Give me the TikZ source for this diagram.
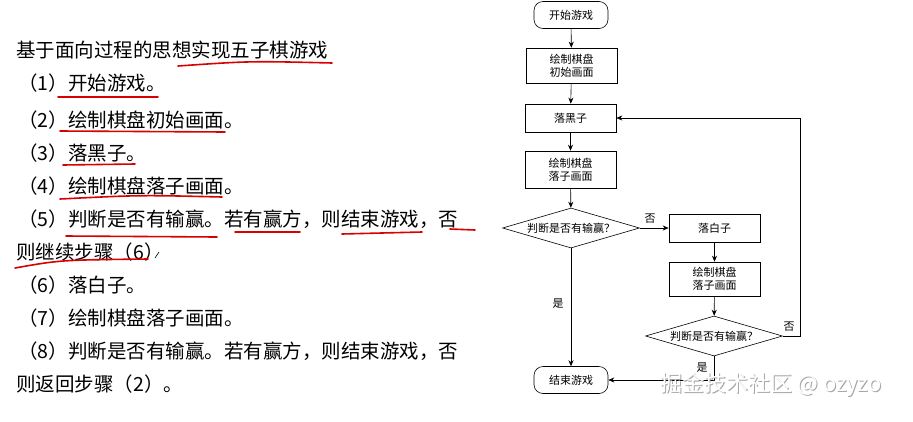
\documentclass[tikz,border=0pt]{standalone}
\usepackage{fontspec}
\setmainfont{Noto Sans CJK SC}
\usetikzlibrary{shapes.geometric,arrows.meta}
\begin{document}
\begin{tikzpicture}[x=1pt,y=-1pt,
  box/.style={draw,line width=0.6pt,minimum width=91pt,align=center,font=\fontsize{11}{13}\selectfont,inner sep=1pt},
  term/.style={draw,line width=0.6pt,rounded corners=9pt,minimum width=74pt,minimum height=27pt,font=\fontsize{11}{13}\selectfont},
  dia/.style={draw,line width=0.6pt,diamond,aspect=3.4,minimum width=137pt,minimum height=40pt,inner sep=0pt,font=\fontsize{11}{13}\selectfont},
  arr/.style={-{Stealth[length=6pt,width=5pt]},line width=0.6pt},
  txt/.style={anchor=base west,font=\fontsize{19.5}{22}\selectfont,inner sep=0pt},
  red/.style={draw=red!85!black,line width=1.6pt,line cap=round},
  lab/.style={font=\fontsize{11}{13}\selectfont,inner sep=0pt}]
\useasboundingbox (0,0) rectangle (913,421);
\fill[white] (0,0) rectangle (913,421);
% left text
\node[txt] (t0) at (16,57) {基于面向过程的思想实现五子棋游戏};
\node[txt] (t1) at (18,90) {（1）开始游戏。};
\node[txt] (t2) at (18,127) {（2）绘制棋盘初始画面。};
\node[txt] (t3) at (18,160) {（3）落黑子。};
\node[txt] (t4) at (18,193) {（4）绘制棋盘落子画面。};
\node[txt] (t5) at (18,226) {（5）判断是否有输赢。若有赢方，则结束游戏，否};
\node[txt] (t6) at (16,259) {则继续步骤（6）};
\node[txt] (t7) at (18,292) {（6）落白子。};
\node[txt] (t8) at (18,325) {（7）绘制棋盘落子画面。};
\node[txt] (t9) at (18,358) {（8）判断是否有输赢。若有赢方，则结束游戏，否};
\node[txt] (t10) at (16,391) {则返回步骤（2）。};
% red underlines
\draw[red] (178,66) .. controls (250,61) .. (332,63);
\draw[red] (58,97) -- (158,97);
\draw[red] (60,131) -- (225,132);
\draw[red] (63,165) -- (135,164);
\draw[red] (60,199) .. controls (140,195) .. (222,197);
\draw[red] (66,236) -- (217,237);
\draw[red] (235,232) -- (300,232);
\draw[red] (342,234) -- (422,232);
\draw[red] (450,229) -- (475,230);
\draw[red] (15,268) .. controls (60,260) .. (148,259);
\draw[line width=0.6pt] (155,258) -- (159,252);
% flowchart
\node[term] (s) at (571,15) {开始游戏};
\node[box,minimum height=35pt] (b1) at (571.5,65.5) {绘制棋盘\\初始画面};
\node[box,minimum height=28pt] (b2) at (570.5,118) {落黑子};
\node[box,minimum height=37pt] (b3) at (570.5,169.5) {绘制棋盘\\落子画面};
\node[dia] (d1) at (571,228) {判断是否有输赢？};
\node[box,minimum height=28pt] (w1) at (714.5,228) {落白子};
\node[box,minimum height=34pt] (w2) at (714.5,279) {绘制棋盘\\落子画面};
\node[dia] (d2) at (714,336) {判断是否有输赢？};
\node[term] (e) at (571,380) {结束游戏};
\coordinate (c1) at (800,336);
\coordinate (c2) at (800,118);
\coordinate (c3) at (714,380);
\draw[arr] (s) -- (b1);
\draw[arr] (b1) -- (b2);
\draw[arr] (b2) -- (b3);
\draw[arr] (b3) -- (d1);
\draw[arr] (d1) -- (w1);
\draw[arr] (w1) -- (w2);
\draw[arr] (w2) -- (d2);
\draw[arr] (d1) -- (e);
\draw[arr] (d2.east) -- (c1) -- (c2) -- (b2.east);
\draw[arr] (d2.south) -- (c3) -- (e.east);
\node[lab] (n1) at (650,219) {否};
\node[lab] (n2) at (789,327) {否};
\node[lab] (y1) at (558,304) {是};
\node[lab] (y2) at (702,368) {是};
% watermark
\node[font=\fontsize{22}{24}\selectfont,text=gray!70,inner sep=0pt] (wm0) at (772,386) {掘金技术社区 @ ozyzo};
\node[font=\fontsize{22}{24}\selectfont,text=white,inner sep=0pt] (wm) at (771,385) {掘金技术社区 @ ozyzo};
\end{tikzpicture}
\end{document}
